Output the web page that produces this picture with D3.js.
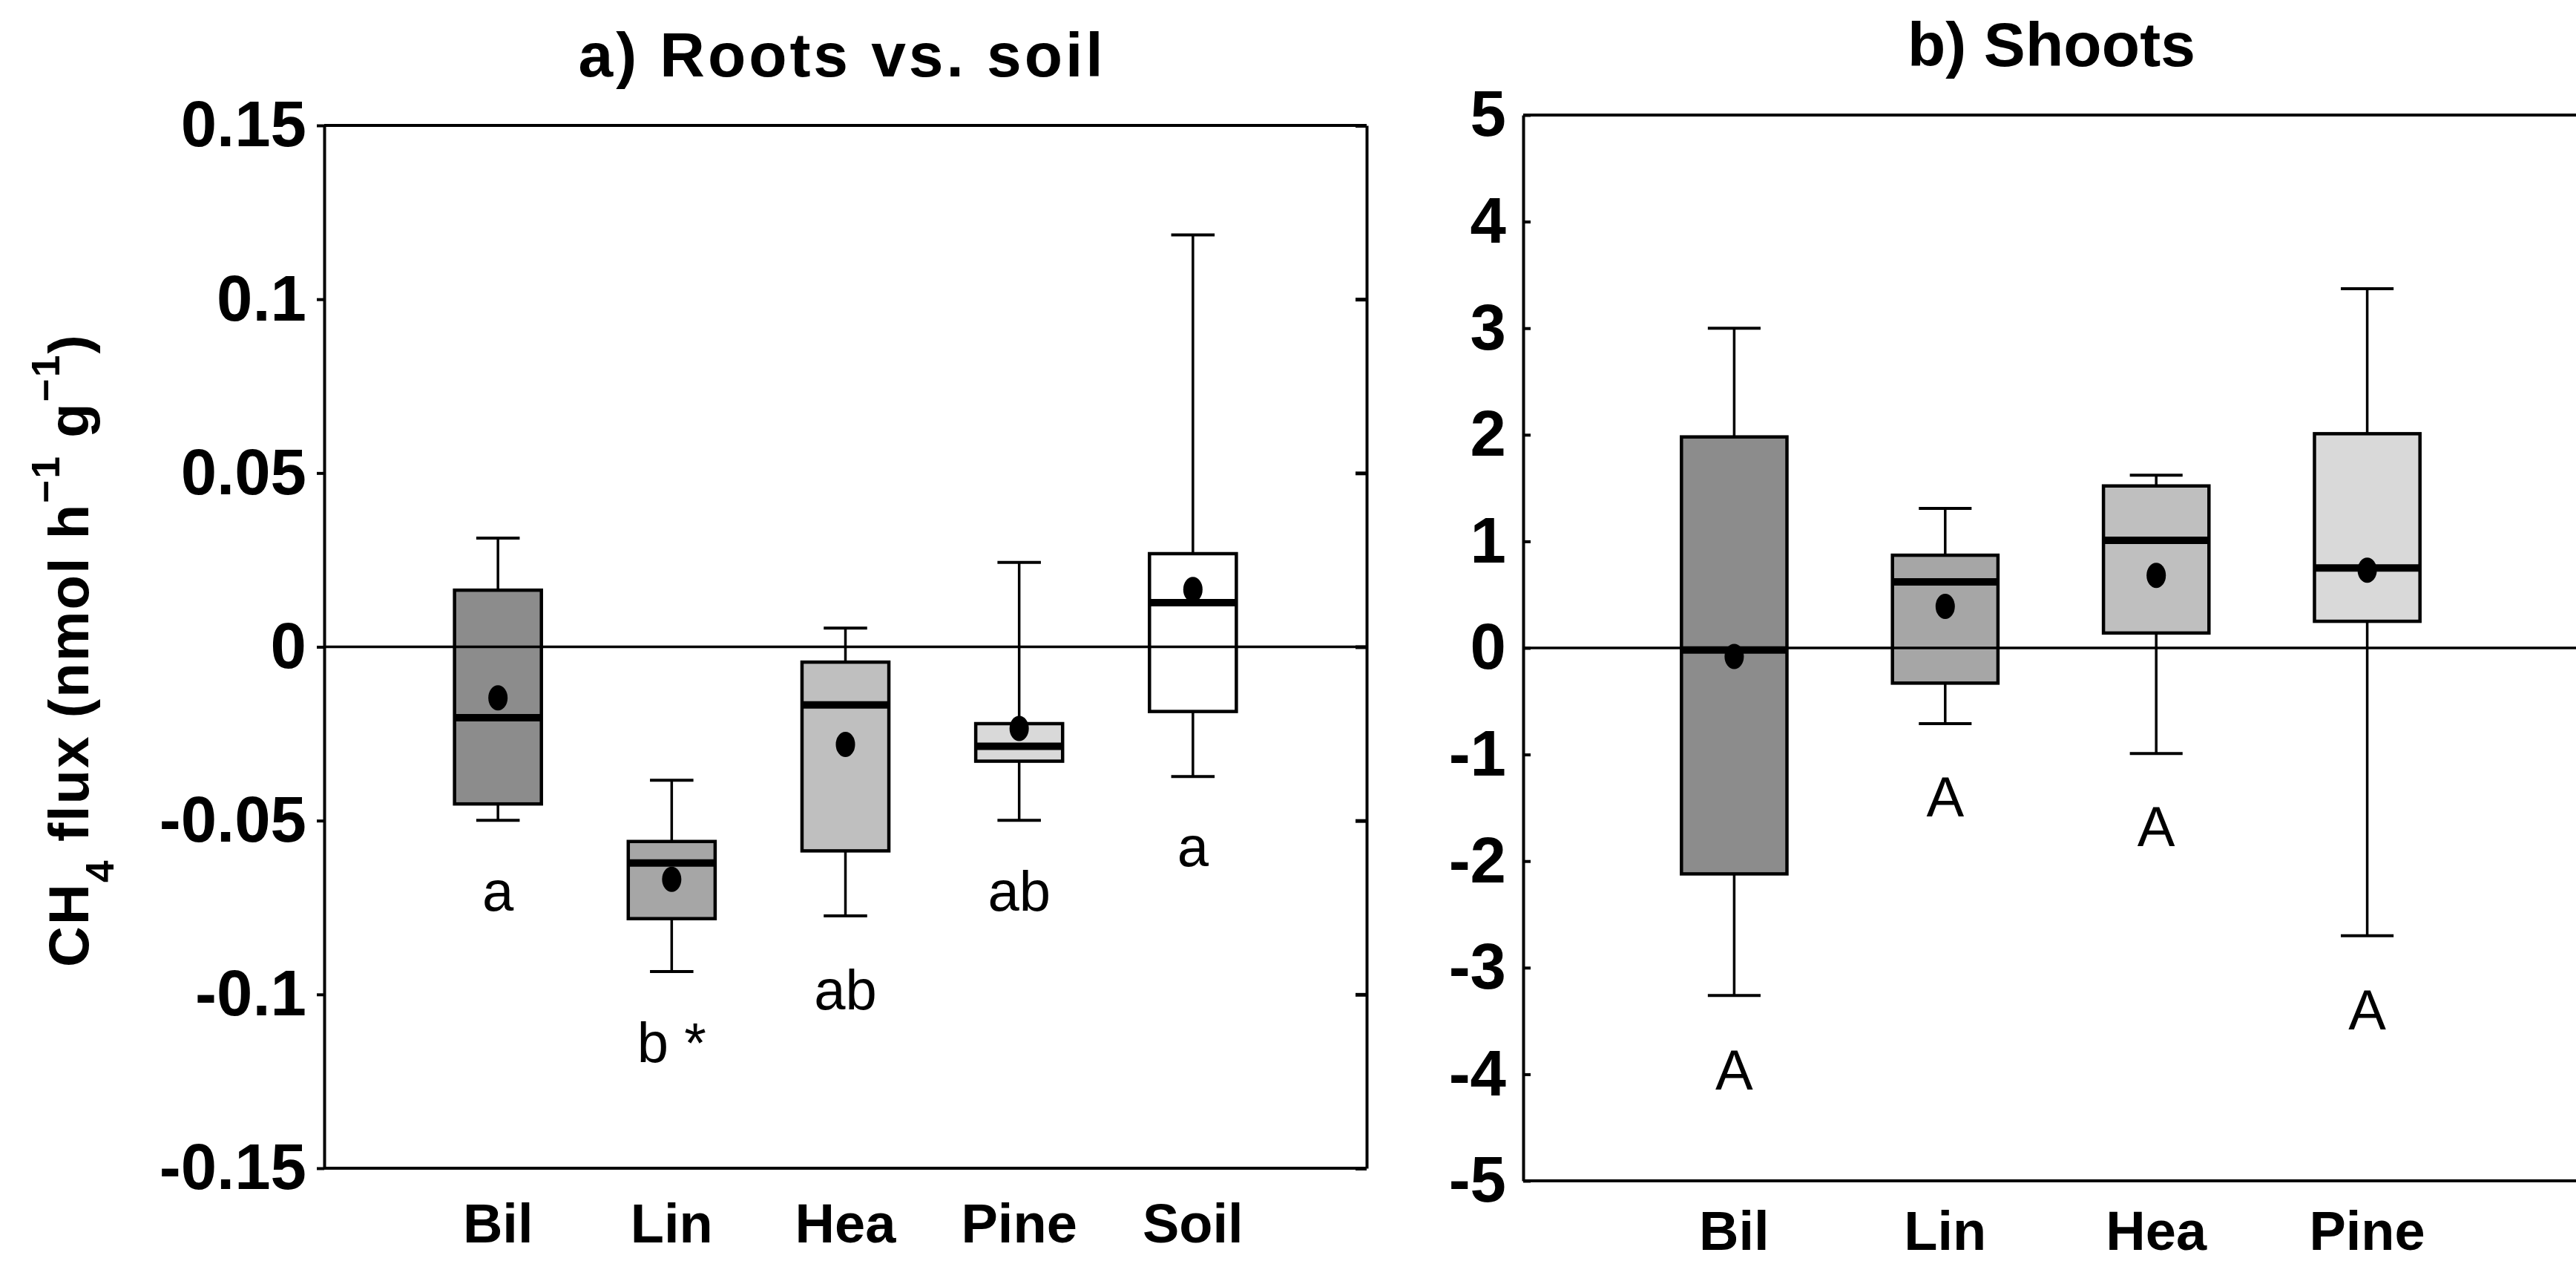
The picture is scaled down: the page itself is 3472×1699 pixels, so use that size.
<!DOCTYPE html>
<html>
<head>
<meta charset="utf-8">
<script src="https://cdn.jsdelivr.net/npm/d3@7"></script>
<style>
  body { margin: 0; background: #fff; }
  svg { display: block; }
</style>
</head>
<body>
<svg id="chart" width="3472" height="1699"></svg>
<script>
// ---- panel a: roots vs. soil ----
const rootCats = ["Bil", "Lin", "Hea", "Pine", "Soil"];
const rootHi = [0.0313, -0.0384, 0.0054, 0.0243, 0.1185];
const rootQ3 = [0.0163, -0.0560, -0.0044, -0.0221, 0.0268];
const rootMed = [-0.0204, -0.0622, -0.0167, -0.0286, 0.0127];
const rootMean = [-0.0147, -0.0669, -0.0281, -0.0235, 0.0165];
const rootQ1 = [-0.0452, -0.0782, -0.0587, -0.0329, -0.0186];
const rootLo = [-0.0499, -0.0934, -0.0774, -0.0499, -0.0373];
const rootLetters = ["a", "b *", "ab", "ab", "a"];
const rootLetterAt = [-0.0760, -0.1195, -0.1042, -0.0760, -0.0632];
const rootTicks = [0.15, 0.1, 0.05, 0, -0.05, -0.1, -0.15];
const rootTickLabels = ["0.15", "0.1", "0.05", "0", "-0.05", "-0.1", "-0.15"];

// ---- panel b: shoots ----
const shootCats = ["Bil", "Lin", "Hea", "Pine"];
const shootHi = [3.0, 1.31, 1.62, 3.37];
const shootQ3 = [1.98, 0.87, 1.52, 2.01];
const shootMed = [-0.02, 0.62, 1.01, 0.75];
const shootMean = [-0.08, 0.39, 0.68, 0.73];
const shootQ1 = [-2.12, -0.33, 0.14, 0.25];
const shootLo = [-3.26, -0.71, -0.99, -2.70];
const shootLetters = ["A", "A", "A", "A"];
const shootLetterAt = [-4.14, -1.58, -1.86, -3.58];
const shootTicks = [5, 4, 3, 2, 1, 0, -1, -2, -3, -4, -5];

const fills = ["#8c8c8c", "#a6a6a6", "#bfbfbf", "#d9d9d9", "#ffffff"];
const FONT = "'Liberation Sans', Arial, sans-serif";

const svg = d3.select("#chart");

function fitWidth(sel, target) {
  const n = sel.text().length;
  const len = sel.node().getComputedTextLength();
  sel.attr("letter-spacing", (target - len) / Math.max(1, n - 1));
}

function drawPanel(p) {
  const g = svg.append("g");
  const x = p.x, y = p.y;
  const half = (x(0.25) - x(0));
  const cap = (x(0.125) - x(0));

  // frame top / bottom
  const [xa, xb] = x.range();
  const [yb, ya] = y.range();
  g.append("line").attr("x1", xa).attr("x2", xb).attr("y1", ya).attr("y2", ya)
    .attr("stroke", "black").attr("stroke-width", 4);
  g.append("line").attr("x1", xa).attr("x2", xb).attr("y1", yb).attr("y2", yb)
    .attr("stroke", "black").attr("stroke-width", 4);

  // left axis with labels
  const left = g.append("g")
    .attr("transform", `translate(${xa},0)`)
    .call(d3.axisLeft(y).tickValues(p.ticks).tickFormat((d, i) => p.tickLabels[i])
      .tickSize(p.tickIn).tickSizeOuter(0).tickPadding(p.pad));
  left.select(".domain").attr("stroke-width", 4);
  left.selectAll(".tick line").attr("stroke-width", 4);
  left.selectAll(".tick text")
    .attr("font-family", FONT).attr("font-size", 87).attr("font-weight", "bold")
    .attr("fill", "black");

  if (p.rightAxis) {
    const right = g.append("g")
      .attr("transform", `translate(${xb},0)`)
      .call(d3.axisRight(y).tickValues(p.ticks).tickFormat("").tickSize(-15).tickSizeOuter(0));
    right.select(".domain").attr("stroke-width", 4);
    right.selectAll(".tick line").attr("stroke-width", 5);
  }

  const idx = d3.range(p.cats.length);

  // whiskers
  idx.forEach(i => {
    const cx = x(i + 1);
    [[p.q3[i], p.hi[i]], [p.q1[i], p.lo[i]]].forEach(([a, b]) => {
      g.append("line").attr("x1", cx).attr("x2", cx).attr("y1", y(a)).attr("y2", y(b))
        .attr("stroke", "black").attr("stroke-width", 3.5);
      g.append("line").attr("x1", cx - cap).attr("x2", cx + cap).attr("y1", y(b)).attr("y2", y(b))
        .attr("stroke", "black").attr("stroke-width", 4);
    });
  });

  // boxes
  g.selectAll("rect.box").data(idx).join("rect")
    .attr("class", "box")
    .attr("x", i => x(i + 1) - half)
    .attr("width", half * 2)
    .attr("y", i => y(p.q3[i]))
    .attr("height", i => y(p.q1[i]) - y(p.q3[i]))
    .attr("fill", i => fills[i])
    .attr("stroke", "black").attr("stroke-width", 4.5);

  // zero line
  g.append("line").attr("x1", xa).attr("x2", xb).attr("y1", y(0)).attr("y2", y(0))
    .attr("stroke", "black").attr("stroke-width", 3.5);

  // medians
  g.selectAll("line.med").data(idx).join("line")
    .attr("class", "med")
    .attr("x1", i => x(i + 1) - half).attr("x2", i => x(i + 1) + half)
    .attr("y1", i => y(p.med[i])).attr("y2", i => y(p.med[i]))
    .attr("stroke", "black").attr("stroke-width", 10);

  // means
  g.selectAll("ellipse.mean").data(idx).join("ellipse")
    .attr("class", "mean")
    .attr("cx", i => x(i + 1)).attr("cy", i => y(p.mean[i]))
    .attr("rx", 13).attr("ry", 17).attr("fill", "black");

  // significance letters
  g.selectAll("text.letter").data(idx).join("text")
    .attr("class", "letter")
    .attr("x", i => x(i + 1)).attr("y", i => y(p.letterAt[i]))
    .attr("text-anchor", "middle")
    .attr("font-family", FONT).attr("font-size", 76)
    .text(i => p.letters[i]);

  // category labels
  g.selectAll("text.cat").data(idx).join("text")
    .attr("class", "cat")
    .attr("x", i => x(i + 1)).attr("y", p.catY)
    .attr("text-anchor", "middle")
    .attr("font-family", FONT).attr("font-size", 74).attr("font-weight", "bold")
    .text(i => p.cats[i]);

  // title
  const t = g.append("text")
    .attr("x", p.titleX).attr("y", p.titleY)
    .attr("text-anchor", "middle")
    .attr("font-family", FONT).attr("font-size", 84).attr("font-weight", "bold")
    .text(p.title);
  fitWidth(t, p.titleW);
}

drawPanel({
  cats: rootCats, hi: rootHi, q3: rootQ3, med: rootMed, mean: rootMean, q1: rootQ1, lo: rootLo,
  letters: rootLetters, letterAt: rootLetterAt, ticks: rootTicks, tickLabels: rootTickLabels,
  x: d3.scaleLinear().domain([0, 6]).range([437, 1842]),
  y: d3.scaleLinear().domain([-0.15, 0.15]).range([1574, 169]),
  tickIn: 10, pad: 14, rightAxis: true,
  catY: 1674, title: "a) Roots vs. soil", titleX: 1135, titleY: 103, titleW: 707
});

drawPanel({
  cats: shootCats, hi: shootHi, q3: shootQ3, med: shootMed, mean: shootMean, q1: shootQ1, lo: shootLo,
  letters: shootLetters, letterAt: shootLetterAt, ticks: shootTicks, tickLabels: shootTicks.map(String),
  x: d3.scaleLinear().domain([0, 5]).range([2053, 3475]),
  y: d3.scaleLinear().domain([-5, 5]).range([1591, 155]),
  tickIn: -10, pad: 23, rightAxis: false,
  catY: 1684, title: "b) Shoots", titleX: 2765, titleY: 89, titleW: 388
});

// y axis label (panel a)
const yl = svg.append("text")
  .attr("transform", "translate(119,876) rotate(-90)")
  .attr("text-anchor", "middle")
  .attr("font-family", FONT).attr("font-size", 76).attr("font-weight", "bold");
yl.append("tspan").text("CH");
yl.append("tspan").attr("font-size", 53).attr("dy", 34).text("4");
yl.append("tspan").attr("dy", -34).text(" flux (nmol h");
yl.append("tspan").attr("font-size", 53).attr("dy", -39).text("\u22121");
yl.append("tspan").attr("dy", 39).text(" g");
yl.append("tspan").attr("font-size", 53).attr("dy", -39).text("\u22121");
yl.append("tspan").attr("dy", 39).text(")");
fitWidth(yl, 852);
</script>
</body>
</html>
